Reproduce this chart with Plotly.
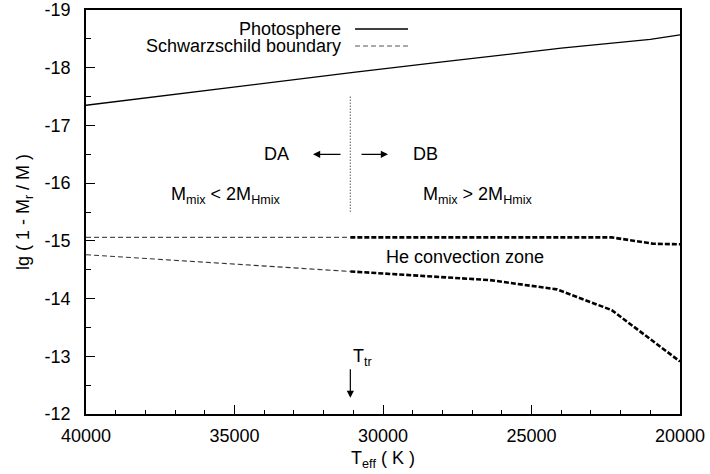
import plotly.graph_objects as go

# Photosphere
photo_T = [40000, 35000, 31000, 28000, 24000, 21000, 20000]
photo_y = [-17.35, -17.67, -17.92, -18.10, -18.34, -18.49, -18.57]

# Schwarzschild boundary, upper (thin part for DA region, thick for DB region)
upper_thin_T = [40000, 31100]
upper_thin_y = [-15.06, -15.06]
upper_thick_T = [31100, 22300, 20900, 20000]
upper_thick_y = [-15.06, -15.06, -14.95, -14.94]

# Schwarzschild boundary, lower
lower_thin_T = [40000, 31100]
lower_thin_y = [-14.76, -14.47]
lower_thick_T = [31100, 28900, 26400, 24150, 22300, 20000]
lower_thick_y = [-14.47, -14.40, -14.32, -14.16, -13.80, -12.91]

T_tr = 31100
div_y = [-17.5, -15.5]

x_ticks = [40000, 35000, 30000, 25000, 20000]
y_ticks = [-19, -18, -17, -16, -15, -14, -13, -12]

FONT = "Liberation Sans, Arial, sans-serif"
FS = 18

fig = go.Figure()
fig.add_trace(go.Scatter(x=photo_T, y=photo_y, mode="lines",
                         line=dict(color="black", width=1.3), showlegend=False))
fig.add_trace(go.Scatter(x=upper_thin_T, y=upper_thin_y, mode="lines",
                         line=dict(color="#555555", width=1.1, dash="5px,3px"), showlegend=False))
fig.add_trace(go.Scatter(x=lower_thin_T, y=lower_thin_y, mode="lines",
                         line=dict(color="#333333", width=1.1, dash="5px,3px"), showlegend=False))
fig.add_trace(go.Scatter(x=upper_thick_T, y=upper_thick_y, mode="lines",
                         line=dict(color="black", width=2.6, dash="5px,2px"), showlegend=False))
fig.add_trace(go.Scatter(x=lower_thick_T, y=lower_thick_y, mode="lines",
                         line=dict(color="black", width=2.6, dash="5px,2px"), showlegend=False))
fig.add_trace(go.Scatter(x=[T_tr, T_tr], y=div_y, mode="lines",
                         line=dict(color="#777777", width=1.2, dash="1.5px,1.5px"), showlegend=False))

# manual legend (text right, line sample right of it)
leg = [("Photosphere", 0.953, dict(color="black", width=1.3)),
       ("Schwarzschild boundary", 0.911, dict(color="#555555", width=1.1, dash="5px,3px"))]
for txt_, yy, ln in leg:
    fig.add_annotation(xref="paper", yref="paper", x=0.4327, y=yy, text=txt_,
                       showarrow=False, xanchor="right", yanchor="middle",
                       font=dict(family=FONT, size=FS, color="black"))
    fig.add_shape(type="line", xref="paper", yref="paper", x0=0.4529, x1=0.5421,
                  y0=yy, y1=yy, line=ln)

def txt(x, y, s):
    fig.add_annotation(x=x, y=y, text=s, showarrow=False, xanchor="center", yanchor="middle",
                       font=dict(family=FONT, size=FS, color="black"))

txt(33570, -16.5, "DA")
txt(28586, -16.5, "DB")
txt(35290, -15.78, "M<sub>mix</sub> < 2M<sub>Hmix</sub>")
txt(26800, -15.78, "M<sub>mix</sub> > 2M<sub>Hmix</sub>")
txt(27240, -14.72, "He convection zone")
fig.add_annotation(x=30707, y=-12.98, text="T<sub>tr</sub>", showarrow=False,
                   xanchor="center", yanchor="middle",
                   font=dict(family=FONT, size=FS, color="black"))

def arrow(x, y, ax, ay):
    fig.add_annotation(x=x, y=y, ax=ax, ay=ay, xref="x", yref="y", axref="x", ayref="y",
                       text="", showarrow=True, arrowhead=2, arrowsize=1.2, arrowwidth=1.2,
                       arrowcolor="black", standoff=0, startstandoff=0)

arrow(32357, -16.5, 31380, -16.5)
arrow(29832, -16.5, 30774, -16.5)
arrow(T_tr, -12.28, T_tr, -12.80)

fig.update_xaxes(range=[40000, 20000], tickvals=x_ticks, ticktext=[str(v) for v in x_ticks],
                 ticks="inside", ticklen=9, tickwidth=1.3, tickcolor="black",
                 minor=dict(ticks="inside", dtick=1000, ticklen=4, tickwidth=1.2, tickcolor="black"),
                 showline=True, linecolor="black", linewidth=1.6, mirror=True,
                 showgrid=False, zeroline=False, ticklabelstandoff=5,
                 tickfont=dict(family=FONT, size=FS, color="black"),
                 title=dict(text="T<sub>eff</sub> ( K )", standoff=6,
                            font=dict(family=FONT, size=FS, color="black")))
fig.update_yaxes(range=[-12, -19], tickvals=y_ticks, ticktext=[str(v) for v in y_ticks],
                 ticks="inside", ticklen=9, tickwidth=1.3, tickcolor="black",
                 minor=dict(ticks="inside", dtick=0.5, ticklen=5, tickwidth=1.2, tickcolor="black"),
                 showline=True, linecolor="black", linewidth=1.6, mirror=True,
                 showgrid=False, zeroline=False, ticklabelstandoff=10,
                 tickfont=dict(family=FONT, size=FS, color="black"),
                 title=dict(text="lg ( 1 - M<sub>r</sub> / M )", standoff=10,
                            font=dict(family=FONT, size=FS, color="black")))

fig.update_layout(width=710, height=474, margin=dict(l=86, r=30, t=10, b=60, autoexpand=False),
                  plot_bgcolor="white", paper_bgcolor="white", showlegend=False,
                  font=dict(family=FONT, size=FS, color="black"))

fig.write_html("out.html")
